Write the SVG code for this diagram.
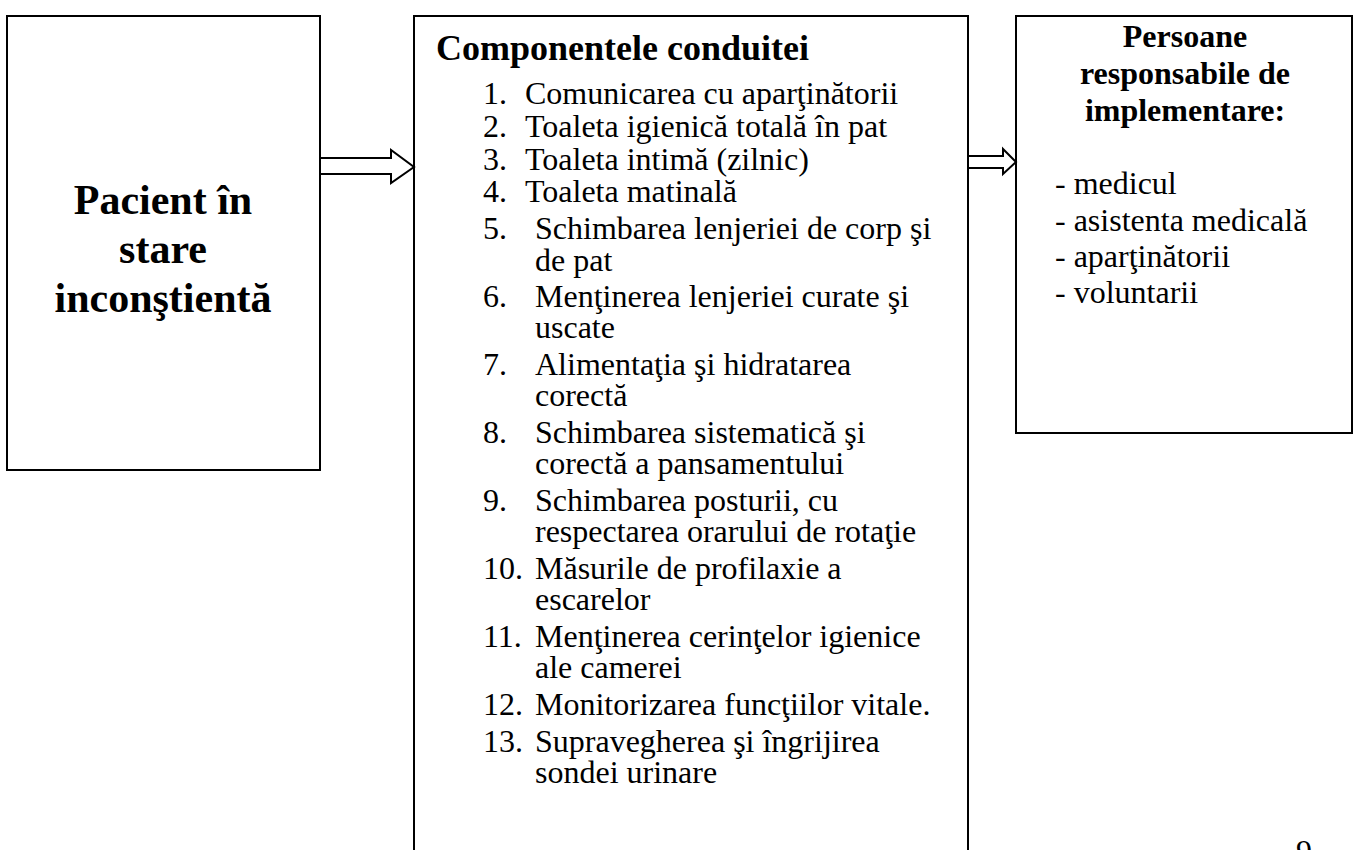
<svg xmlns="http://www.w3.org/2000/svg" width="1359" height="850" viewBox="0 0 1359 850">
  <style>
    .box { fill: #ffffff; stroke: #000000; stroke-width: 2; }
    .arrow { fill: #ffffff; stroke: #000000; stroke-width: 2; stroke-linejoin: miter; }
    text { font-family: "Liberation Serif", "Times New Roman", serif; fill: #000000; }
    .big { font-size: 42px; font-weight: bold; text-anchor: middle; }
    .head { font-size: 36px; font-weight: bold; }
    .sub { font-size: 32px; font-weight: bold; text-anchor: middle; }
    .item { font-size: 32px; }
  </style>
  <rect width="1359" height="850" fill="#ffffff"/>

  <!-- patient node -->
  <g id="node-pacient">
    <rect class="box" x="7" y="16" width="313" height="454"/>
    <text class="big" x="163" y="214">Pacient în</text>
    <text class="big" x="163" y="263">stare</text>
    <text class="big" x="163" y="312">inconştientă</text>
  </g>

  <!-- care components node -->
  <g id="node-componente">
    <path class="box" d="M414,870 V16 H968 V870"/>
    <text class="head" x="436" y="60">Componentele conduitei</text>
    <g class="item">
      <text x="483" y="104">1.</text><text x="525" y="104">Comunicarea cu aparţinătorii</text>
      <text x="483" y="137">2.</text><text x="525" y="137">Toaleta igienică totală în pat</text>
      <text x="483" y="170">3.</text><text x="525" y="170">Toaleta intimă (zilnic)</text>
      <text x="483" y="202">4.</text><text x="525" y="202">Toaleta matinală</text>
      <text x="483" y="239">5.</text><text x="535" y="239">Schimbarea lenjeriei de corp şi</text>
      <text x="535" y="271">de pat</text>
      <text x="483" y="307">6.</text><text x="535" y="307">Menţinerea lenjeriei curate şi</text>
      <text x="535" y="338">uscate</text>
      <text x="483" y="375">7.</text><text x="535" y="375">Alimentaţia şi hidratarea</text>
      <text x="535" y="406">corectă</text>
      <text x="483" y="443">8.</text><text x="535" y="443">Schimbarea sistematică şi</text>
      <text x="535" y="474">corectă a pansamentului</text>
      <text x="483" y="511">9.</text><text x="535" y="511">Schimbarea posturii, cu</text>
      <text x="535" y="542">respectarea orarului de rotaţie</text>
      <text x="483" y="579">10.</text><text x="535" y="579">Măsurile de profilaxie a</text>
      <text x="535" y="610">escarelor</text>
      <text x="483" y="647">11.</text><text x="535" y="647">Menţinerea cerinţelor igienice</text>
      <text x="535" y="678">ale camerei</text>
      <text x="483" y="715">12.</text><text x="535" y="715">Monitorizarea funcţiilor vitale.</text>
      <text x="483" y="752">13.</text><text x="535" y="752">Supravegherea şi îngrijirea</text>
      <text x="535" y="783">sondei urinare</text>
    </g>
  </g>

  <!-- responsible persons node -->
  <g id="node-persoane">
    <rect class="box" x="1016" y="16" width="336" height="417"/>
    <text class="sub" x="1185" y="47">Persoane</text>
    <text class="sub" x="1185" y="84">responsabile de</text>
    <text class="sub" x="1185" y="121">implementare:</text>
    <g class="item">
      <text x="1055" y="194">- medicul</text>
      <text x="1055" y="231">- asistenta medicală</text>
      <text x="1055" y="267">- aparţinătorii</text>
      <text x="1055" y="303">- voluntarii</text>
    </g>
  </g>

  <!-- block arrows between nodes -->
  <g id="connectors">
    <path class="arrow" d="M320,158 H391 V150 L414,167 L391,183 V174 H320 Z"/>
    <path class="arrow" d="M968,156 H1003 V149 L1016,162 L1003,174 V168 H968 Z"/>
  </g>

  <!-- page number -->
  <text class="item" x="1296" y="862">9</text>
</svg>
